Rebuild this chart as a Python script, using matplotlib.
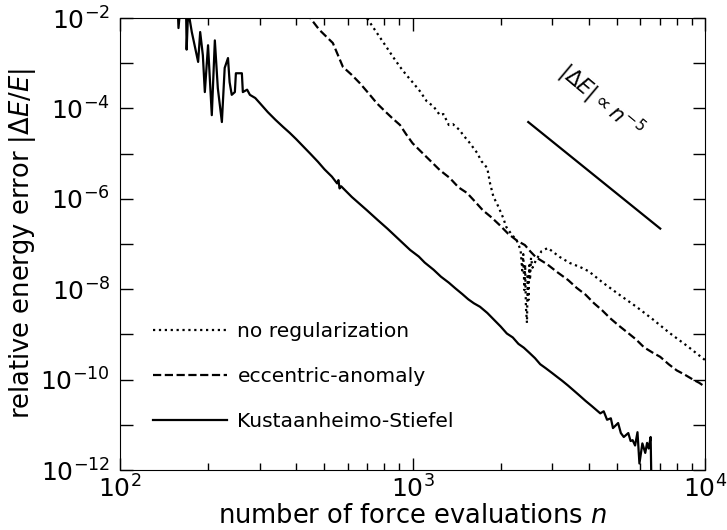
import numpy as np
import matplotlib
matplotlib.use("Agg")
import matplotlib.pyplot as plt

# Kustaanheimo-Stiefel (solid)
ks_n = [157, 158.5, 162, 168, 169, 171, 176, 185, 188, 192, 195, 200, 206, 211, 216, 223,
        228, 234, 237, 241, 247, 249, 261, 263, 272, 278, 290, 301, 320, 340, 361, 380,
        400, 425, 447, 475, 500, 530, 552, 558, 563, 570, 620, 698, 760, 820, 906, 981,
        1050, 1100, 1180, 1250, 1330, 1400, 1480, 1550, 1620, 1700, 1800, 1900, 2000, 2100,
        2200, 2300, 2400, 2500, 2620, 2730, 2850, 3000, 3120, 3250, 3400, 3540, 3700, 3900,
        4100, 4380, 4500, 4620, 4760, 4840, 5040, 5150, 5270, 5460, 5560, 5650, 5760, 5870,
        5960, 6100, 6240, 6330, 6410, 6510, 6550]
ks_e = [3e-2, 6e-3, 3e-2, 3e-2, 2e-3, 1.5e-2, 4.9e-3, 1.07e-3, 4.9e-3, 1.5e-3, 2.3e-4,
        2.5e-3, 7.1e-5, 3.2e-3, 2.8e-4, 5e-5, 7.9e-4, 1.3e-3, 3.8e-4, 2e-4, 2.3e-4, 6e-4,
        6e-4, 2.3e-4, 2.6e-4, 2e-4, 1.7e-4, 1.3e-4, 8.3e-5, 5.6e-5, 3.9e-5, 2.9e-5,
        2.1e-5, 1.4e-5, 1.0e-5, 6.6e-6, 4.5e-6, 3.1e-6, 2.2e-6, 2.6e-6, 1.7e-6, 1.9e-6,
        1.1e-6, 5.6e-7, 3.4e-7, 2.2e-7, 1.2e-7, 7.4e-8, 5.3e-8, 3.9e-8, 2.7e-8, 1.9e-8,
        1.4e-8, 1.05e-8, 7.8e-9, 6.0e-9, 4.9e-9, 4.1e-9, 3.0e-9, 2.1e-9, 1.5e-9, 1.05e-9,
        8.6e-10, 6.2e-10, 5.1e-10, 4.0e-10, 3.0e-10, 2.2e-10, 1.8e-10, 1.4e-10, 1.15e-10,
        9.4e-11, 7.4e-11, 5.9e-11, 4.6e-11, 3.4e-11, 2.6e-11, 1.8e-11, 2.0e-11, 1.3e-11,
        1.4e-11, 8.5e-12, 1.1e-11, 6.6e-12, 5.4e-12, 6.6e-12, 4.4e-12, 4.6e-12, 3.5e-12,
        6.9e-12, 1.4e-12, 3.9e-12, 2.4e-12, 4.0e-12, 3.0e-12, 5.4e-12, 5e-13]

# eccentric-anomaly (dashed)
ea_n = [430, 447, 480, 534, 578, 620, 661, 710, 755, 800, 850, 906, 950, 1000, 1070, 1144,
        1240, 1340, 1435, 1535, 1640, 1738, 1860, 1988, 2120, 2270, 2420, 2530, 2640, 2880,
        3120, 3400, 3640, 3900, 4170, 4450, 4730, 5050, 5430, 5800, 6180, 6600, 7020, 7500,
        8000, 8500, 9100, 9550, 10000]
ea_e = [1.3e-2, 1e-2, 5.5e-3, 2.8e-3, 8.3e-4, 5.5e-4, 3.6e-4, 2.1e-4, 1.3e-4, 9e-5, 6.2e-5,
        4.3e-5, 2.7e-5, 1.7e-5, 1.1e-5, 7.2e-6, 4.3e-6, 2.9e-6, 1.8e-6, 1.35e-6, 8.5e-7,
        5.6e-7, 3.9e-7, 2.6e-7, 1.7e-7, 1.2e-7, 9.5e-8, 6.8e-8, 5.1e-8, 3.6e-8, 2.4e-8,
        1.6e-8, 1.07e-8, 7.6e-9, 4.9e-9, 3.4e-9, 2.3e-9, 1.6e-9, 1.1e-9, 7.8e-10, 5.2e-10,
        4.0e-10, 3.2e-10, 2.2e-10, 1.6e-10, 1.3e-10, 1.0e-10, 8.5e-11, 6.9e-11]

# no regularization (dotted)
nr_n = [690, 698, 755, 810, 856, 906, 950, 1000, 1060, 1117, 1180, 1240, 1275, 1330, 1373,
        1450, 1487, 1560, 1660, 1720, 1800, 1840, 1890, 1940, 1988, 2040, 2090, 2170, 2270,
        2340, 2370, 2390, 2410, 2425, 2440, 2460, 2475, 2490, 2505, 2520, 2540, 2570, 2640,
        2760, 2900, 3180, 3450, 3740, 4000, 4470, 5100, 5850, 6600, 7570, 8700, 10000]
nr_e = [1.3e-2, 1e-2, 4.7e-3, 2.4e-3, 1.4e-3, 8.3e-4, 5.6e-4, 3.8e-4, 2.4e-4, 1.45e-4,
        1.1e-4, 7.1e-5, 7.5e-5, 4.3e-5, 4.5e-5, 3.3e-5, 2.6e-5, 1.8e-5, 1.05e-5, 6.8e-6,
        4.8e-6, 2.2e-6, 1.1e-6, 8e-7, 5.6e-7, 3.8e-7, 2.4e-7, 1.7e-7, 1.2e-7, 7.4e-8,
        2.6e-8, 6e-8, 9.6e-9, 3.5e-8, 4e-9, 1.8e-9, 2.2e-8, 5.8e-9, 3.4e-8, 1.6e-8, 5e-8,
        3.0e-8, 4.4e-8, 7.0e-8, 8.2e-8, 5.2e-8, 3.8e-8, 3.1e-8, 2.5e-8, 1.4e-8, 7.5e-9,
        4.0e-9, 2.2e-9, 1.07e-9, 5.5e-10, 2.7e-10]

# reference slope line
ref_n = [2485, 7020]
ref_e = [5e-5, 2.2e-7]

fig = plt.figure(figsize=(7.27, 5.30), dpi=100)
ax = fig.add_axes([0.165, 0.113, 0.805, 0.853])

ax.loglog(nr_n, nr_e, color='k', ls=':', lw=1.6, label='no regularization')
ax.loglog(ea_n, ea_e, color='k', ls='--', lw=1.6, label='eccentric-anomaly')
ax.loglog(ks_n, ks_e, color='k', ls='-', lw=1.6, label='Kustaanheimo-Stiefel')
ax.loglog(ref_n, ref_e, color='k', ls='-', lw=1.6)

ax.text(4400, 1.5e-4, r'$|\Delta E| \propto n^{-5}$', fontsize=15,
        rotation=-40, ha='center', va='center', rotation_mode='anchor')

ax.set_xlim(1e2, 1e4)
ax.set_ylim(1e-12, 1e-2)

yt = [10.0 ** k for k in range(-12, -1)]
ylab = [r'$10^{%d}$' % k if k % 2 == 0 else '' for k in range(-12, -1)]
ax.set_yticks(yt)
ax.set_yticklabels(ylab)
ax.yaxis.set_minor_locator(matplotlib.ticker.NullLocator())

ax.tick_params(which='both', direction='in', top=True, right=True, labelsize=18)
ax.tick_params(which='major', length=9, width=1)
ax.tick_params(which='minor', length=5, width=1)
ax.tick_params(axis='y', pad=7)
ax.tick_params(axis='x', pad=4)

ax.set_xlabel(r'number of force evaluations $n$', fontsize=18.5, labelpad=0)
ax.set_ylabel(r'relative energy error $|\Delta E/E|$', fontsize=18.5, labelpad=2)

ax.legend(loc='lower left', bbox_to_anchor=(0.043, 0.069), frameon=False,
          fontsize=14.6, handlelength=3.65, handletextpad=0.5, labelspacing=1.27,
          borderaxespad=0)

fig.savefig('out.png', dpi=100)
